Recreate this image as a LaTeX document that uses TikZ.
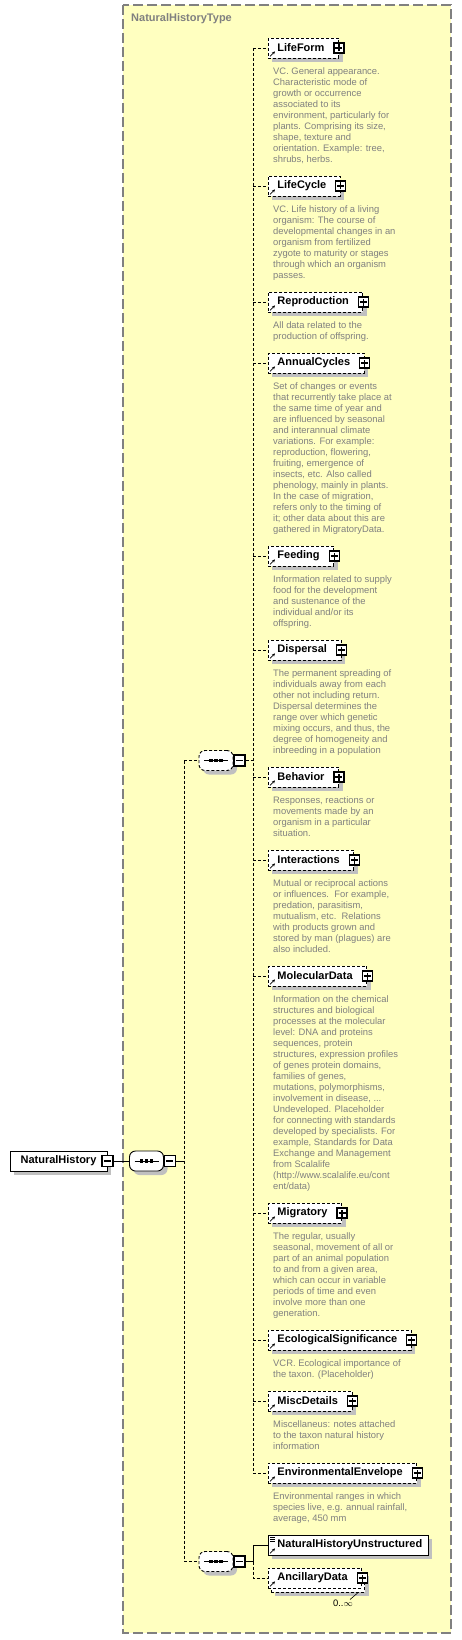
\documentclass[tikz,border=0pt]{standalone}
\usepackage{fontspec}
\setmainfont{Liberation Sans}
\usetikzlibrary{shadows,arrows.meta}

\definecolor{fondtype}{RGB}{255,255,192}
\definecolor{gristexte}{RGB}{128,128,128}
\definecolor{ombre}{RGB}{192,192,192}

\newcommand\petitfont{\fontsize{9.4}{11}\selectfont}
\newcommand\grasfont{\fontsize{11}{13}\selectfont\bfseries}

\tikzset{
  ombrage/.style={drop shadow={shadow xshift=4pt,shadow yshift=-4pt,fill=ombre,opacity=1}},
  marge droite/.store in=\margedroite,
  elem/.style={draw,fill=white,line width=.9pt,dash pattern=on 3pt off 2pt,
    minimum height=20pt,inner xsep=0pt,inner ysep=0pt,anchor=west,font=\grasfont,
    marge droite=14pt,execute at begin node=\kern9pt,execute at end node=\kern\margedroite},
  desc/.style={anchor=north west,inner sep=0pt,align=left,text=gristexte,font=\petitfont},
  pbox/.style={draw,solid,fill=white,line width=1.1pt,minimum size=10pt,inner sep=0pt,
    path picture={\draw[line width=1.1pt] ([xshift=-3.5pt]path picture bounding box.center) -- ([xshift=3.5pt]path picture bounding box.center)
      ([yshift=-3.5pt]path picture bounding box.center) -- ([yshift=3.5pt]path picture bounding box.center);}},
  mbox/.style={draw,solid,fill=white,line width=1.1pt,minimum size=11pt,inner sep=0pt,
    path picture={\draw[line width=1.1pt] ([xshift=-3.5pt]path picture bounding box.center) -- ([xshift=3.5pt]path picture bounding box.center);}},
  seq/.style={draw,fill=white,line width=.9pt,rounded corners=6pt,minimum width=34pt,
    minimum height=20pt,inner sep=0pt,ombrage},
  conn/.style={line width=.9pt,dash pattern=on 3pt off 2pt},
  plein/.style={line width=.9pt},
  fleche/.style={line width=.7pt,-{Stealth[length=3pt,width=3pt]}}
}

% icone de sequence
\newcommand\seqicon[1]{%
  \draw[line width=1pt] ([xshift=-12pt]#1.center) -- ([xshift=12pt]#1.center);
  \foreach \d in {-5,0,5}
    \fill ([xshift=\d pt]#1.center) +(-1.6,-1.6) rectangle +(1.6,1.6);
}

\begin{document}
\begin{tikzpicture}[x=1pt,y=-1pt]
\useasboundingbox (0,0) rectangle (462,1640);

% Cadre du type
  \draw[draw=gristexte,fill=fondtype,line width=1.2pt,dash pattern=on 10pt off 4pt] (123,5) rectangle (451,1633);
  \node[anchor=west,inner sep=0pt,text=gristexte,font=\grasfont] (titre) at (131,19) {NaturalHistoryType};

% Elements de la premiere sequence
  \foreach \nom/\y/\txt in {
    LifeForm/48/{VC. General appearance.\\Characteristic mode of\\growth or occurrence\\associated to its\\environment, particularly for\\plants. Comprising its size,\\shape, texture and\\orientation. Example: tree,\\shrubs, herbs.},
    LifeCycle/186/{VC. Life history of a living\\organism: The course of\\developmental changes in an\\organism from fertilized\\zygote to maturity or stages\\through which an organism\\passes.},
    Reproduction/302/{All data related to the\\production of offspring.},
    AnnualCycles/363/{Set of changes or events\\that recurrently take place at\\the same time of year and\\are influenced by seasonal\\and interannual climate\\variations. For example:\\reproduction, flowering,\\fruiting, emergence of\\insects, etc. Also called\\phenology, mainly in plants.\\In the case of migration,\\refers only to the timing of\\it; other data about this are\\gathered in MigratoryData.},
    Feeding/556/{Information related to supply\\food for the development\\and sustenance of the\\individual and/or its\\offspring.},
    Dispersal/650/{The permanent spreading of\\individuals away from each\\other not including return.\\Dispersal determines the\\range over which genetic\\mixing occurs, and thus, the\\degree of homogeneity and\\inbreeding in a population},
    Behavior/777/{Responses, reactions or\\movements made by an\\organism in a particular\\situation.},
    Interactions/860/{Mutual or reciprocal actions\\or influences.\ \ For example,\\predation, parasitism,\\mutualism, etc.\ \ Relations\\with products grown and\\stored by man (plagues) are\\also included.},
    MolecularData/976/{Information on the chemical\\structures and biological\\processes at the molecular\\level: DNA and proteins\\sequences, protein\\structures, expression profiles\\of genes protein domains,\\families of genes,\\mutations, polymorphisms,\\involvement in disease, ...\\Undeveloped. Placeholder\\for connecting with standards\\developed by specialists. For\\example, Standards for Data\\Exchange and Management\\from Scalalife\\(http://www.scalalife.eu/cont\\ent/data)},
    Migratory/1213/{The regular, usually\\seasonal, movement of all or\\part of an animal population\\to and from a given area,\\which can occur in variable\\periods of time and even\\involve more than one\\generation.},
    EcologicalSignificance/1340/{VCR. Ecological importance of\\the taxon. (Placeholder)},
    MiscDetails/1401/{Miscellaneus: notes attached\\to the taxon natural history\\information},
    EnvironmentalEnvelope/1473/{Environmental ranges in which\\species live, e.g. annual rainfall,\\average, 450 mm}}{
    \node[elem,ombrage] (\nom) at (268,\y) {\nom};
    \node[pbox] (\nom-p) at (\nom.east) {};
    \draw[fleche] ([shift={(2,-2)}]\nom.south west) -- ++(5,-5);
    \node[desc] (\nom-d) at (273,\y+19) {\txt};
  }

% Elements de la seconde sequence
  \node[elem,ombrage,solid,marge droite=6pt] (NaturalHistoryUnstructured) at (268,1545) {NaturalHistoryUnstructured};
  \draw[fleche] ([shift={(2,-2)}]NaturalHistoryUnstructured.south west) -- ++(5,-5);
  \foreach \k in {2.5,4.5,6.5}
    \draw[line width=.7pt] ([shift={(2,\k)}]NaturalHistoryUnstructured.north west) -- ++(5,0);

  \node[elem,ombrage] (AncillaryData-bis) at (271,1582) {\phantom{AncillaryData}};
  \node[elem] (AncillaryData) at (268,1578) {AncillaryData};
  \node[pbox] (AncillaryData-p) at (AncillaryData.east) {};
  \draw[fleche] ([shift={(2,-2)}]AncillaryData.south west) -- ++(5,-5);
  \node[inner sep=0pt,font=\petitfont] (occ) at (343,1603) {0..$\infty$};
  \draw[line width=.6pt] ([xshift=-7pt]AncillaryData-bis.south east) -- ([xshift=-3pt]occ.north east);

% Racine et sequences
  \node[draw,fill=white,line width=.9pt,minimum height=20pt,minimum width=97pt,inner sep=0pt,font=\grasfont,ombrage] (racine) at (58.5,1161) {NaturalHistory};
  \node[mbox] (racine-m) at (racine.east) {};

  \node[seq] (main) at (146.5,1161) {};
  \seqicon{main}
  \node[mbox] (main-m) at ([xshift=6pt]main.east) {};

  \node[seq,dash pattern=on 3pt off 2pt] (seqA) at (216,760.5) {};
  \seqicon{seqA}
  \node[mbox] (seqA-m) at ([xshift=6pt]seqA.east) {};

  \node[seq,dash pattern=on 3pt off 2pt] (seqB) at (216,1561.5) {};
  \seqicon{seqB}
  \node[mbox] (seqB-m) at ([xshift=6pt]seqB.east) {};

% Liens
  \coordinate (jM) at (184,1161);
  \coordinate (jA) at (253,760.5);
  \coordinate (jB) at (253,1561.5);

  \draw[plein] (racine-m.east) -- (main.west);
  \draw[plein] (main-m.east) -- (jM);
  \draw[conn] (jM |- seqA.west) -- (jM |- seqB.west);
  \draw[conn] (jM |- seqA.west) -- (seqA.west);
  \draw[conn] (jM |- seqB.west) -- (seqB.west);

  \draw[conn] (seqA-m.east) -- (jA);
  \draw[conn] (jA |- LifeForm.west) -- (jA |- EnvironmentalEnvelope.west);
  \foreach \nom in {LifeForm,LifeCycle,Reproduction,AnnualCycles,Feeding,Dispersal,Behavior,
    Interactions,MolecularData,Migratory,EcologicalSignificance,MiscDetails,EnvironmentalEnvelope}
    \draw[conn] (jA |- \nom.west) -- (\nom.west);

  \draw[plein] (seqB-m.east) -- (jB) |- (NaturalHistoryUnstructured.west);
  \draw[conn] (jB) |- (AncillaryData.west);

\end{tikzpicture}
\end{document}
